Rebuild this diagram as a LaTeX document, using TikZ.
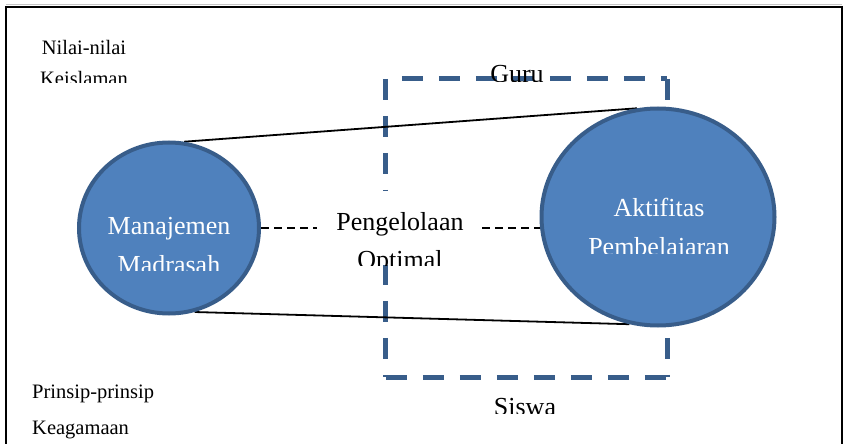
\documentclass[tikz,border=0pt]{standalone}
\usepackage{fontspec}
\setmainfont{Liberation Serif}
\usetikzlibrary{shapes.geometric}
\definecolor{fillblue}{HTML}{4F81BD}
\definecolor{edgeblue}{HTML}{385D8A}
\tikzset{
  bigtext/.style={inner sep=0pt, anchor=base, font=\fontsize{26}{30}\selectfont},
  smalltext/.style={inner sep=0pt, anchor=base, font=\fontsize{20.5}{24}\selectfont},
  whitetext/.style={bigtext, text=white},
  blob/.style={ellipse, draw=edgeblue, fill=fillblue, line width=4pt, inner sep=0pt},
  boxside/.style={draw=edgeblue, line width=5pt, dash pattern=on 21pt off 16pt},
  tangent/.style={draw=black, line width=1.8pt},
  link/.style={draw=black, line width=2.5pt, dash pattern=on 8pt off 5pt}
}
\begin{document}
\begin{tikzpicture}[x=1pt,y=-1pt]
\useasboundingbox (0,0) rectangle (844,444);
% frame
\draw[gray!45, line width=1pt] (6,4.5) -- (842,4.5);
\draw[line width=2pt] (6,450) -- (6,7) -- (842,7) -- (842,450);
% dashed rectangle (positions)
\node[minimum width=281pt, minimum height=298pt, inner sep=0pt] (box) at (526.5,228) {};
\draw[boxside, dash phase=21pt] (box.north west) -- (box.north east);
\draw[boxside] (box.north west) -- (box.south west);
\draw[boxside] (box.north east) -- (box.south east);
\draw[boxside] (box.south west) -- (box.south east);
% ellipses (placed, drawn later on top)
\path (169,228) node[blob, minimum width=180pt, minimum height=171pt, draw=none, fill=none] (mm) {};
\path (658,217) node[blob, minimum width=233pt, minimum height=217pt, draw=none, fill=none] (ak) {};
% tangent lines
\draw[tangent] (mm.80) -- (ak.101);
\draw[tangent] (mm.-73) -- (ak.-105);
% middle label box
\node[fill=white, minimum width=165pt, minimum height=74pt, inner sep=0pt] (pg) at (399.5,228) {};
\draw[link] (mm.east) -- (pg.west);
\draw[link] (pg.east) -- (pg.east -| ak.west);
% redraw middle box to cover
\fill[white] (pg.north west) rectangle (pg.south east);
% ellipses
\node[blob, minimum width=180pt, minimum height=171pt] (mmshape) at (mm) {};
\node[blob, minimum width=233pt, minimum height=217pt] (akshape) at (ak) {};
% texts
\node[whitetext] (t1) at (169,234) {Manajemen};
\begin{scope}\clip (0,0) rectangle (844,270);
\node[whitetext] (t2) at (169,273) {Madrasah};
\end{scope}
\node[whitetext] (t3) at (659,216) {Aktifitas};
\begin{scope}\clip (0,0) rectangle (844,253);
\node[whitetext] (t4) at (659,255) {Pembelajaran};
\end{scope}
\node[bigtext] (t5) at (400,230) {Pengelolaan};
\begin{scope}\clip (0,0) rectangle (844,265);
\node[bigtext] (t6) at (400,268) {Optimal};
\end{scope}
\begin{scope}\clip (0,0) rectangle (844,82);
\node[bigtext] (t7) at (517,83) {Guru};
\end{scope}
\begin{scope}\clip (0,0) rectangle (844,413);
\node[bigtext] (t8) at (525,415) {Siswa};
\end{scope}
\node[smalltext] (t9) at (84,55) {Nilai-nilai};
\begin{scope}\clip (0,0) rectangle (844,83);
\node[smalltext] (t10) at (84,86) {Keislaman};
\end{scope}
\node[smalltext, anchor=base west] (t11) at (32,398) {Prinsip-prinsip};
\node[smalltext, anchor=base west] (t12) at (32,434) {Keagamaan};
\end{tikzpicture}
\end{document}
